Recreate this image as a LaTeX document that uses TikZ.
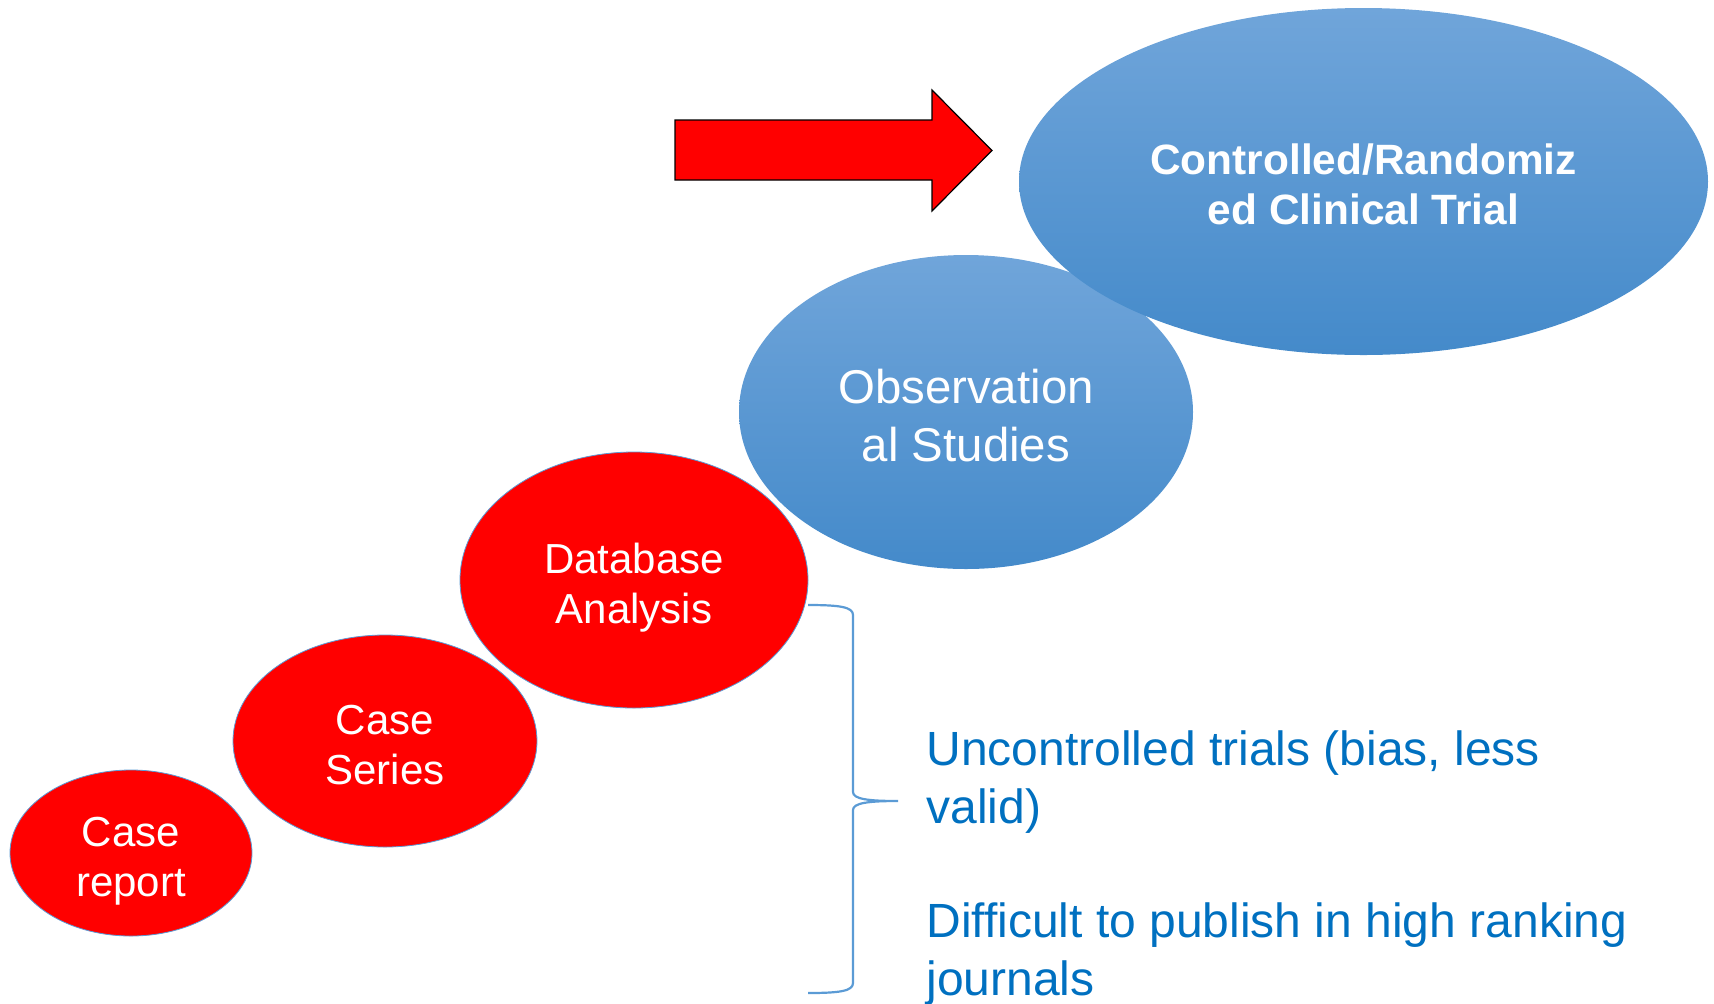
\documentclass[tikz,border=0pt]{standalone}
\usepackage{fontspec}
\setmainfont{Liberation Sans}
\usetikzlibrary{shapes.geometric}
\definecolor{ovalblue}{RGB}{91,155,213}
\definecolor{ovaltop}{RGB}{112,165,218}
\definecolor{ovalbot}{RGB}{68,138,202}
\definecolor{notetext}{RGB}{0,112,192}
\begin{document}
\begin{tikzpicture}[x=0.5pt, y=-0.5pt,
    redoval/.style={ellipse, fill=red, draw=ovalblue, line width=0.4pt, inner sep=0pt,
      text=white, align=center, text height=43pt, text depth=0pt,
      font=\fontsize{21pt}{25pt}\selectfont},
    blueoval/.style={ellipse, top color=ovaltop, bottom color=ovalbot, inner sep=0pt,
      text=white, align=center, text depth=0pt},
    notetxt/.style={anchor=base west, align=left, text=notetext, inner sep=0pt,
      font=\fontsize{24pt}{29pt}\selectfont}]
      \useasboundingbox (0, 0) rectangle (1714, 1003);

      \node[blueoval, minimum width=227pt, minimum height=157pt, text height=49.6pt,
        font=\fontsize{23.7pt}{29pt}\selectfont] (obs) at (966, 412) {Observation\\al Studies};
      \node[blueoval, minimum width=344.5pt, minimum height=173.5pt, text height=42.8pt,
        font=\bfseries\fontsize{21.2pt}{25pt}\selectfont] (rct) at (1363.5, 181.5) {Controlled/Randomiz\\ed Clinical Trial};

      \node[redoval, minimum width=121pt, minimum height=83pt] (report) at (131, 853) {Case\\report};
      \node[redoval, minimum width=152pt, minimum height=106pt] (series) at (385, 741) {Case\\Series};
      \node[redoval, minimum width=174pt, minimum height=128pt] (dba) at (634, 580) {Database\\Analysis};

      % big arrow pointing at the trial oval
      \draw[fill=red, draw=black, line width=0.6pt]
        (675, 120) -- (932, 120) -- (932, 90) -- (992, 150.5) -- (932, 211) -- (932, 180) -- (675, 180) -- cycle;

      % brace
      \coordinate (btop) at (808, 605);
      \coordinate (btip) at (898, 801);
      \coordinate (bbot) at (808, 993);
      \draw[ovalblue, line width=1.1pt]
        (btop) .. controls (840, 605) and (853, 607) .. (853, 615) -- (853, 792)
        .. controls (853, 799) and (868, 801) .. (btip)
        .. controls (868, 801) and (853, 803) .. (853, 810) -- (853, 983)
        .. controls (853, 991) and (840, 993) .. (bbot);

      \node[notetxt] (note1) at (926, 823) {Uncontrolled trials (bias, less\\valid)};
      \node[notetxt] (note2) at (926, 995) {Difficult to publish in high ranking\\journals};
    \end{tikzpicture}
\end{document}
